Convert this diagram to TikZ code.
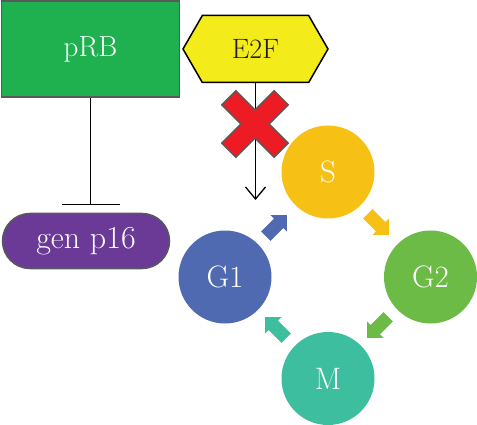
\documentclass[tikz,border=0pt]{standalone}
\usetikzlibrary{shapes.misc,shapes.symbols,shapes.arrows,arrows.meta}
\definecolor{edgegray}{HTML}{58595B}
\definecolor{prbgreen}{HTML}{1FB050}
\definecolor{e2fyellow}{HTML}{F4EC1A}
\definecolor{p16purple}{HTML}{6B3A97}
\definecolor{xred}{HTML}{ED1C24}
\definecolor{sgold}{HTML}{F6C015}
\definecolor{gtwogreen}{HTML}{6CBB46}
\definecolor{mteal}{HTML}{3DBE9E}
\definecolor{goneblue}{HTML}{4F6AB1}
\definecolor{textdark}{HTML}{231F20}
\begin{document}
\begin{tikzpicture}[x=1pt,y=-1pt,
    box/.style={draw=edgegray,line width=1.5pt,text=white,inner sep=0pt},
    phase/.style={circle,minimum size=93pt,inner sep=0pt,text=white,
      font=\fontsize{31}{31}\selectfont},
    turn/.style={single arrow,minimum height=30pt,inner xsep=0pt,
      inner ysep=6.5pt,single arrow head extend=5pt}]
  \useasboundingbox (0,0) rectangle (477,425);
  \node[box,fill=prbgreen,minimum width=178pt,minimum height=96pt,
    font=\fontsize{29}{29}\selectfont] (prb) at (90.5,49) {pRB};
  \node[box,draw=black,fill=e2fyellow,text=textdark,signal,
    signal to=west and east,signal pointer angle=120,
    minimum width=145pt,minimum height=67pt,
    font=\fontsize{28}{28}\selectfont] (e2f) at (255.5,49) {E2F};
  \node[box,fill=p16purple,rounded rectangle,minimum width=167pt,
    minimum height=55pt,font=\fontsize{32}{32}\selectfont] (p16) at (86,241) {gen p16};
  \draw
    (328,172) node[phase,fill=sgold] (s) {S}
    (430.5,277) node[phase,fill=gtwogreen] (g2) {G2}
    (328,378.5) node[phase,fill=mteal] (m) {M}
    (225,277) node[phase,fill=goneblue] (g1) {G1};
  \draw
    (274,228) node[turn,fill=goneblue,rotate=45] (g1s) {}
    (376,222) node[turn,fill=sgold,rotate=-45] (sg2) {}
    (380,325) node[turn,fill=gtwogreen,rotate=-135] (g2m) {}
    (278,330) node[turn,fill=mteal,rotate=135] (mg1) {};
  \coordinate (stop) at (90.5,205);
  \coordinate (tip) at (255.5,200);
  \begin{scope}[line width=1.3pt]
    \draw[-{Bar[width=58pt]}] (prb.south) -- (stop);
    \draw[-{Straight Barb[length=12pt,width=20pt]}] (e2f.south) -- (tip);
  \end{scope}
  \draw[fill=xred,draw=edgegray,line width=1.5pt,shift={(255,124)},rotate=45]
    (-10,37) -- (10,37) -- (10,10) -- (37,10) -- (37,-10) -- (10,-10)
    -- (10,-37) -- (-10,-37) -- (-10,-10) -- (-37,-10) -- (-37,10)
    -- (-10,10) -- cycle;
\end{tikzpicture}
\end{document}
